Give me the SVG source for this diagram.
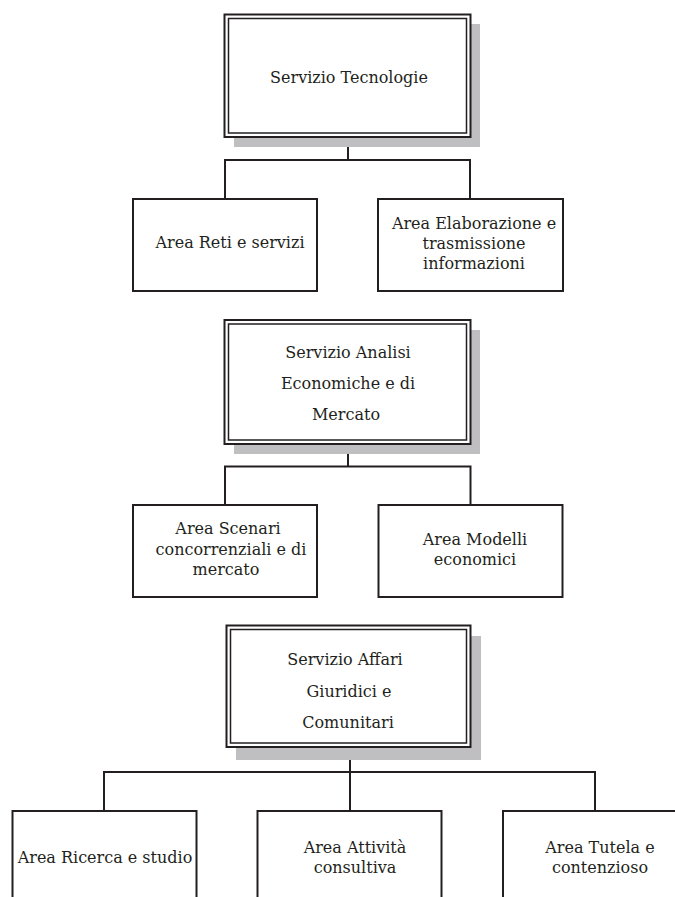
<svg xmlns="http://www.w3.org/2000/svg" width="675" height="897" viewBox="0 0 675 897">
<style>
.bg{fill:#ffffff}
.shadow{fill:#bfbfc1;stroke:none}
.outer{fill:#ffffff;stroke:#231f20;stroke-width:2}
.inner{fill:none;stroke:#231f20;stroke-width:1.5}
.box{fill:#ffffff;stroke:#231f20;stroke-width:2}
.conn{fill:none;stroke:#231f20;stroke-width:2}
text{font-family:"DejaVu Serif","Liberation Serif",serif;font-size:16px;fill:#231f20;text-anchor:middle}
</style>
<rect class="bg" x="0" y="0" width="675" height="897"/>
<g id="connectors">
<path class="conn" d="M348 137V160M225 199V160H470V199"/>
<path class="conn" d="M348 444V466.5M225 505V466.5H470.5V505"/>
<path class="conn" d="M350 747V811M104 811V772H595V811"/>
</g>
<g id="servizio-tecnologie">
<rect class="shadow" x="234" y="24" width="246" height="123"/>
<rect class="outer" x="224.5" y="14.5" width="246" height="122.5"/>
<rect class="inner" x="228.5" y="18.5" width="238" height="114.5"/>
<text x="349" y="83">Servizio Tecnologie</text>
</g>
<g id="area-reti">
<rect class="box" x="133" y="199" width="184" height="92"/>
<text x="230" y="248">Area Reti e servizi</text>
</g>
<g id="area-elaborazione">
<rect class="box" x="378" y="199" width="185" height="92"/>
<text x="474" y="229">Area Elaborazione e</text>
<text x="474" y="249">trasmissione</text>
<text x="474" y="269">informazioni</text>
</g>
<g id="servizio-analisi">
<rect class="shadow" x="234" y="330" width="246" height="124"/>
<rect class="outer" x="224.5" y="320" width="246" height="124"/>
<rect class="inner" x="228.5" y="324" width="238" height="116"/>
<text x="348" y="358">Servizio Analisi</text>
<text x="348" y="389">Economiche e di</text>
<text x="346" y="420">Mercato</text>
</g>
<g id="area-scenari">
<rect class="box" x="133" y="505" width="184" height="92"/>
<text x="228" y="534">Area Scenari</text>
<text x="231" y="555">concorrenziali e di</text>
<text x="226" y="575">mercato</text>
</g>
<g id="area-modelli">
<rect class="box" x="378.5" y="505" width="184" height="92"/>
<text x="475" y="545">Area Modelli</text>
<text x="475" y="565">economici</text>
</g>
<g id="servizio-affari">
<rect class="shadow" x="236" y="636" width="245" height="124"/>
<rect class="outer" x="226.5" y="625.5" width="244" height="121.5"/>
<rect class="inner" x="230.5" y="629.5" width="236" height="113.5"/>
<text x="345" y="665">Servizio Affari</text>
<text x="349" y="697">Giuridici e</text>
<text x="348" y="728">Comunitari</text>
</g>
<g id="area-ricerca">
<rect class="box" x="12.5" y="811" width="184" height="100"/>
<text x="105" y="863">Area Ricerca e studio</text>
</g>
<g id="area-attivita">
<rect class="box" x="257.5" y="811" width="184" height="100"/>
<text x="355" y="853">Area Attività</text>
<text x="355" y="873">consultiva</text>
</g>
<g id="area-tutela">
<rect class="box" x="503" y="811" width="200" height="100"/>
<text x="600" y="853">Area Tutela e</text>
<text x="600" y="873">contenzioso</text>
</g>
</svg>
